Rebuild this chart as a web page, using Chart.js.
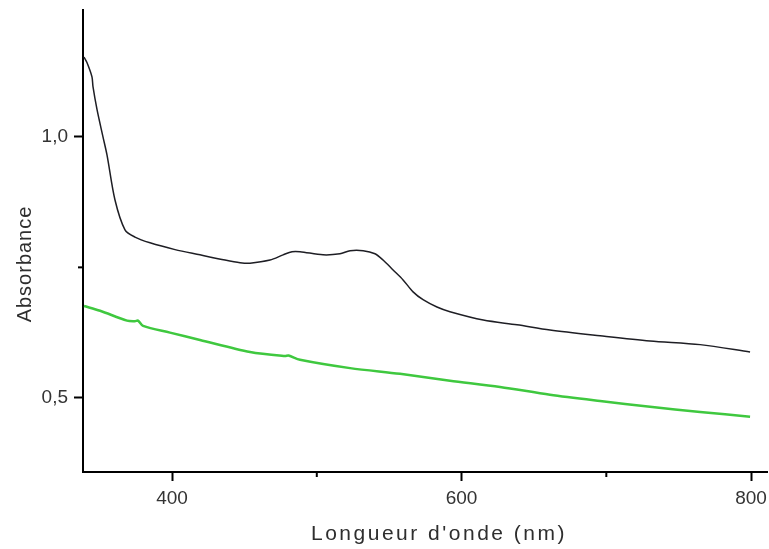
<!DOCTYPE html>
<html>
<head>
<meta charset="utf-8">
<script src="https://cdn.jsdelivr.net/npm/chart.js@4/dist/chart.umd.min.js"></script>
<style>
  html, body { margin: 0; padding: 0; background: #fff; }
  #wrap { width: 769px; height: 549px; }
</style>
</head>
<body>
<div id="wrap"><canvas id="spectre" width="769" height="549"></canvas></div>
<script>
// ─── Data ───
const blackWavelength = [339.2, 341.3, 344.7, 345.4, 348.2, 352.3, 355.1, 360.6, 367.5, 374.4, 384.8, 402.1, 419.3, 436.6, 447.0, 453.9, 467.7, 476.7, 482.9, 488.4, 504.3, 516.0, 523.0, 532.0, 540.2, 545.8, 552.7, 559.6, 566.5, 573.4, 583.0, 592.0, 615.0, 638.3, 661.1, 695.7, 730.2, 764.8, 799.3];
const blackAbs = [1.153, 1.142, 1.115, 1.096, 1.052, 1.000, 0.965, 0.879, 0.822, 0.808, 0.797, 0.784, 0.774, 0.764, 0.759, 0.758, 0.764, 0.774, 0.780, 0.780, 0.774, 0.776, 0.782, 0.782, 0.776, 0.764, 0.745, 0.726, 0.703, 0.688, 0.674, 0.665, 0.649, 0.640, 0.630, 0.619, 0.609, 0.602, 0.588];

const greenWavelength = [339.2, 350.3, 368.9, 374.4, 376.5, 380.0, 398.6, 419.3, 453.9, 478.0, 480.5, 488.4, 523.0, 557.5, 592.0, 626.6, 661.1, 695.7, 730.2, 764.8, 799.3];
const greenAbs = [0.676, 0.667, 0.648, 0.647, 0.648, 0.638, 0.625, 0.611, 0.588, 0.580, 0.581, 0.573, 0.557, 0.546, 0.533, 0.521, 0.506, 0.494, 0.483, 0.473, 0.464];

const xTicks = [400, 500, 600, 700, 800];
const xMajor = [400, 600, 800];
const yTicks = [0.5, 0.75, 1.0];
const yMajor = [0.5, 1.0];

const xTitle = "Longueur d'onde (nm)";
const yTitle = 'Absorbance';

const toPoints = (xs, ys) => xs.map((x, i) => ({ x, y: ys[i] }));
const isMajor = (list, v) => list.some(m => Math.abs(m - v) < 1e-6);

const fontFamily = "'Liberation Sans', Arial, sans-serif";

// minor tick marks (shorter) + spaced-out axis titles
const axisExtras = {
    id: 'axisExtras',
    afterDraw(chart) {
        const { ctx, scales } = chart;
        ctx.save();
        ctx.strokeStyle = '#000';
        ctx.lineWidth = 2;
        xTicks.filter(v => !isMajor(xMajor, v)).forEach(v => {
            const px = scales.x.getPixelForValue(v);
            ctx.beginPath();
            ctx.moveTo(px, scales.x.top);
            ctx.lineTo(px, scales.x.top + 5);
            ctx.stroke();
        });
        yTicks.filter(v => !isMajor(yMajor, v)).forEach(v => {
            const py = scales.y.getPixelForValue(v);
            ctx.beginPath();
            ctx.moveTo(scales.y.right, py);
            ctx.lineTo(scales.y.right - 5, py);
            ctx.stroke();
        });

        ctx.fillStyle = '#2e2e2e';
        ctx.textAlign = 'center';
        ctx.textBaseline = 'alphabetic';

        ctx.font = `21px ${fontFamily}`;
        ctx.letterSpacing = '2.5px';
        ctx.fillText(xTitle, 439, 540);

        ctx.font = `20px ${fontFamily}`;
        ctx.letterSpacing = '1px';
        ctx.translate(31, 264);
        ctx.rotate(-Math.PI / 2);
        ctx.fillText(yTitle, 0, 0);
        ctx.restore();
    },
};

new Chart(document.getElementById('spectre'), {
    type: 'line',
    data: {
        datasets: [{
            data: toPoints(greenWavelength, greenAbs),
            borderColor: '#3fc83f',
            borderWidth: 2.5,
            pointRadius: 0,
            tension: 0.3,
        }, {
            data: toPoints(blackWavelength, blackAbs),
            borderColor: '#1e1e24',
            borderWidth: 1.5,
            pointRadius: 0,
            tension: 0.3,
        }],
    },
    options: {
        responsive: false,
        animation: false,
        layout: { padding: { top: 10, right: 2, left: 0, bottom: 0 } },
        plugins: {
            legend: { display: false },
            tooltip: { enabled: false },
        },
        scales: {
            x: {
                type: 'linear',
                min: 338.5,
                max: 811,
                afterBuildTicks: s => { s.ticks = xTicks.map(value => ({ value })); },
                afterFit: s => { s.height = 77; s.paddingLeft = 0; s.paddingRight = 0; },
                grid: {
                    drawOnChartArea: false,
                    tickLength: 9,
                    tickWidth: 2,
                    tickColor: c => (c.tick && isMajor(xMajor, c.tick.value)) ? '#000' : 'rgba(0,0,0,0)',
                },
                border: { color: '#000', width: 2 },
                ticks: {
                    color: '#333',
                    font: { family: fontFamily, size: 19 },
                    padding: 6,
                    maxRotation: 0,
                    autoSkip: false,
                    callback: v => isMajor(xMajor, v) ? String(v) : '',
                },
                title: { display: false },
            },
            y: {
                type: 'linear',
                min: 0.358,
                max: 1.243,
                afterBuildTicks: s => { s.ticks = yTicks.map(value => ({ value })); },
                afterFit: s => { s.width = 83; s.paddingTop = 0; s.paddingBottom = 0; },
                grid: {
                    drawOnChartArea: false,
                    tickLength: 9,
                    tickWidth: 2,
                    tickColor: c => (c.tick && isMajor(yMajor, c.tick.value)) ? '#000' : 'rgba(0,0,0,0)',
                },
                border: { color: '#000', width: 2 },
                ticks: {
                    color: '#333',
                    font: { family: fontFamily, size: 19 },
                    padding: 6,
                    autoSkip: false,
                    callback: v => isMajor(yMajor, v) ? v.toFixed(1).replace('.', ',') : '',
                },
                title: { display: false },
            },
        },
    },
    plugins: [axisExtras],
});
</script>
</body>
</html>
